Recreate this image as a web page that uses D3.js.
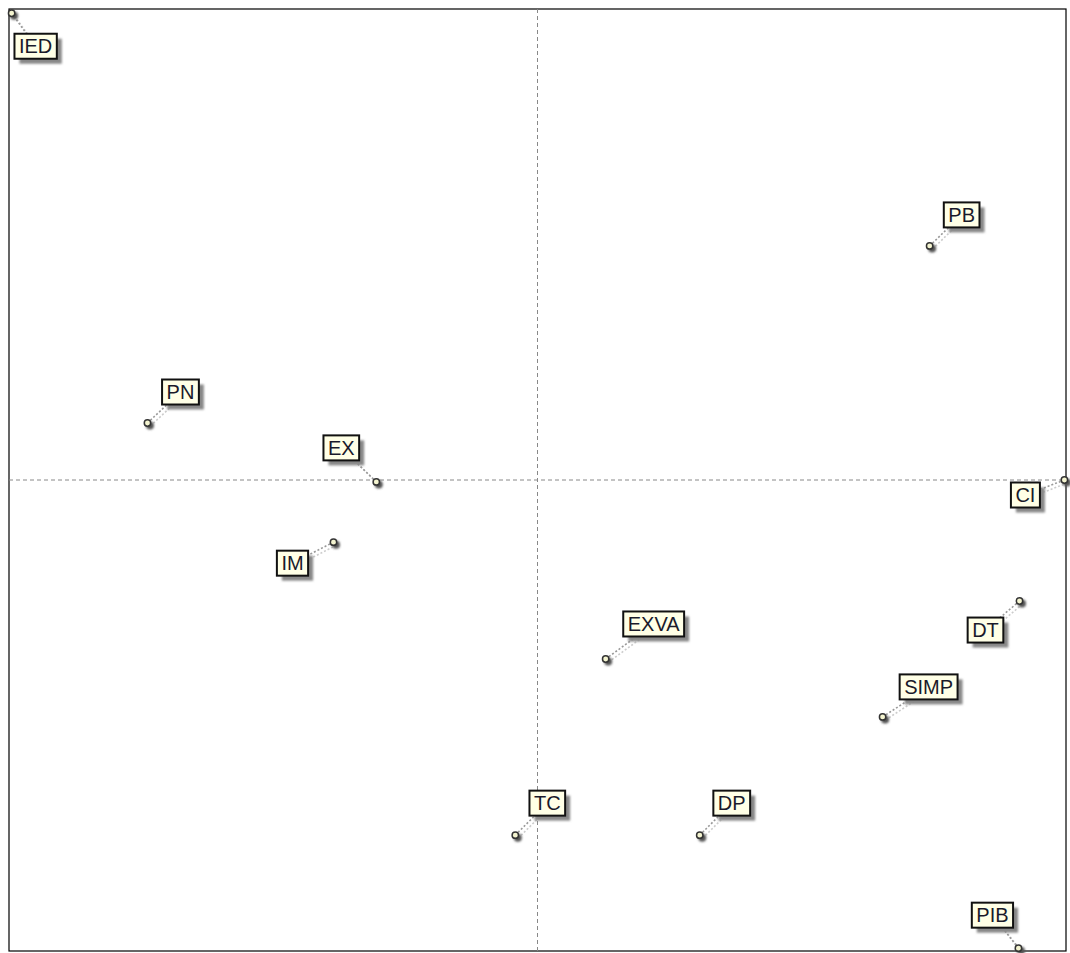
<!DOCTYPE html>
<html>
<head>
<meta charset="utf-8">
<script src="https://cdn.jsdelivr.net/npm/d3@7"></script>
<style>
  body { margin: 0; background: #fff; }
  text { font-family: "Liberation Sans", Arial, sans-serif; }
</style>
</head>
<body>
<script>
// variable names and their coordinates on the two factor axes
var names = ["IED", "PB", "PN", "EX", "CI", "IM", "DT", "EXVA", "SIMP", "TC", "DP", "PIB"];
var xVals = [-0.995, 0.742, -0.738, -0.305, 0.997, -0.386, 0.912, 0.129, 0.653, -0.042, 0.307, 0.910];
var yVals = [0.991, 0.497, 0.121, -0.004, 0.0, -0.132, -0.257, -0.380, -0.503, -0.754, -0.754, -0.994];

// where each label box sits relative to its point (box centre, in px)
var labelShift = {
  IED: [24, 33], PB: [32, -31], PN: [33, -31], EX: [-35, -34],
  CI: [-39, 15], IM: [-41, 21], DT: [-34, 29], EXVA: [48, -35],
  SIMP: [46, -30], TC: [32, -32], DP: [32, -32], PIB: [-26, -33]
};

var W = 1070, H = 953;
var margin = {top: 9, right: 4, bottom: 2, left: 9},
    width = W - margin.left - margin.right,
    height = H - margin.top - margin.bottom;

var svg = d3.select("body").append("svg")
    .attr("width", W)
    .attr("height", H);

var defs = svg.append("defs");
defs.append("filter").attr("id", "blur")
    .attr("x", "-50%").attr("y", "-50%").attr("width", "200%").attr("height", "200%")
  .append("feGaussianBlur").attr("stdDeviation", 1.3);

var x = d3.scaleLinear().domain([-1, 1]).range([margin.left, margin.left + width]);
var y = d3.scaleLinear().domain([-1, 1]).range([margin.top + height, margin.top]);

var data = names.map(function(n, i) { return {name: n, x: xVals[i], y: yVals[i]}; });

// frame
svg.append("rect")
    .attr("x", x(-1)).attr("y", y(1))
    .attr("width", x(1) - x(-1)).attr("height", y(-1) - y(1))
    .attr("fill", "none").attr("stroke", "#000").attr("stroke-width", 1.2);

// crosshair through the origin
svg.append("line")
    .attr("x1", x(0)).attr("x2", x(0)).attr("y1", y(1)).attr("y2", y(-1))
    .attr("stroke", "#888").attr("stroke-dasharray", "4,3");
svg.append("line")
    .attr("x1", x(-1)).attr("x2", x(1)).attr("y1", y(0)).attr("y2", y(0))
    .attr("stroke", "#888").attr("stroke-dasharray", "4,3");

var g = svg.selectAll("g.var").data(data).enter().append("g").attr("class", "var");

// connectors (shadow + dotted line)
g.append("line")
    .attr("x1", function(d) { return x(d.x) + 3; })
    .attr("y1", function(d) { return y(d.y) + 3; })
    .attr("x2", function(d) { return x(d.x) + labelShift[d.name][0] + 3; })
    .attr("y2", function(d) { return y(d.y) + labelShift[d.name][1] + 3; })
    .attr("stroke", "#ccc").attr("stroke-width", 1.6).attr("stroke-dasharray", "2,2");
g.append("line")
    .attr("x1", function(d) { return x(d.x); })
    .attr("y1", function(d) { return y(d.y); })
    .attr("x2", function(d) { return x(d.x) + labelShift[d.name][0]; })
    .attr("y2", function(d) { return y(d.y) + labelShift[d.name][1]; })
    .attr("stroke", "#999").attr("stroke-width", 1.6).attr("stroke-dasharray", "2,2");

// points
g.append("circle")
    .attr("cx", function(d) { return x(d.x) + 2.5; })
    .attr("cy", function(d) { return y(d.y) + 2.5; })
    .attr("r", 4).attr("fill", "#555").attr("filter", "url(#blur)");
g.append("circle")
    .attr("cx", function(d) { return x(d.x); })
    .attr("cy", function(d) { return y(d.y); })
    .attr("r", 3.2).attr("fill", "#f4f4d0").attr("stroke", "#333").attr("stroke-width", 1.5);

// labels
var lab = g.append("g")
    .attr("transform", function(d) {
      return "translate(" + (x(d.x) + labelShift[d.name][0]) + "," + (y(d.y) + labelShift[d.name][1]) + ")";
    });

lab.append("text")
    .attr("text-anchor", "middle")
    .attr("dy", "0.36em")
    .attr("font-size", 20)
    .attr("fill", "#1a1a2a")
    .text(function(d) { return d.name; });

lab.each(function(d) {
  var node = d3.select(this);
  var w = node.select("text").node().getComputedTextLength() + 9;
  var h = 25;
  node.insert("rect", "text")
      .attr("x", -w / 2 + 5).attr("y", -h / 2 + 5)
      .attr("width", w).attr("height", h)
      .attr("fill", "#888").attr("filter", "url(#blur)");
  node.insert("rect", "text")
      .attr("x", -w / 2).attr("y", -h / 2)
      .attr("width", w).attr("height", h)
      .attr("fill", "#ffffe6").attr("stroke", "#111").attr("stroke-width", 2);
});
</script>
</body>
</html>
